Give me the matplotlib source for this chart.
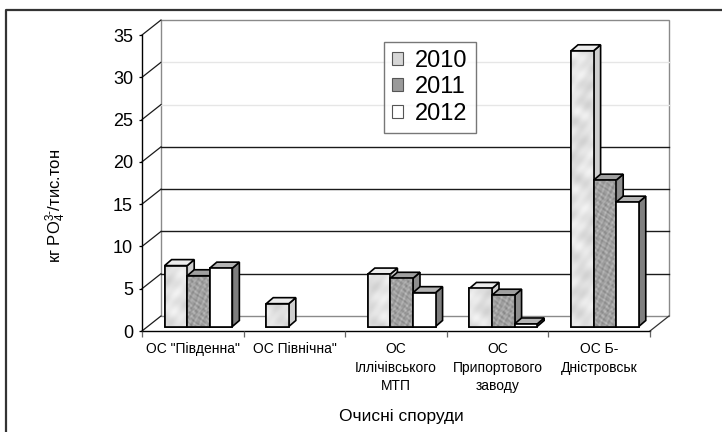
import numpy as np
import matplotlib
matplotlib.use("Agg")
import matplotlib.pyplot as plt
from matplotlib.transforms import offset_copy
from matplotlib.patches import Polygon, Rectangle
from matplotlib.lines import Line2D

plt.rcParams['font.family'] = ['Liberation Sans', 'DejaVu Sans']
plt.rcParams['mathtext.fontset'] = 'custom'
plt.rcParams['mathtext.rm'] = 'Liberation Sans'
plt.rcParams['mathtext.it'] = 'Liberation Sans:italic'

# ---- data -------------------------------------------------------------
categories = ['ОС "Південна"', 'ОС Північна"', 'ОС\nІллічівського\nМТП',
              'ОС\nПрипортового\nзаводу', 'ОС Б-\nДністровськ']
years = ['2010', '2011', '2012']
values_2010 = [7.2, 2.7, 6.2, 4.5, 32.6]
values_2011 = [6.0, np.nan, 5.7, 3.7, 17.3]
values_2012 = [6.9, np.nan, 4.0, 0.3, 14.7]
y_ticks = [0, 5, 10, 15, 20, 25, 30, 35]
ylabel = 'кг PO$_\\mathrm{4}^{\\mathrm{3}\\text{-}}$/тис.тон'
xlabel = 'Очисні споруди'

series = [values_2010, values_2011, values_2012]
front_colors = ['#dadada', '#a6a6a6', '#ffffff']
top_colors = ['#ececec', '#a0a0a0', '#b4b4b4']
side_colors = ['#cfcfcf', '#8e8e8e', '#7f7f7f']

# ---- figure / axes (front plane of the 3-D box) -----------------------
W, H = 722, 432
fig = plt.figure(figsize=(W / 100, H / 100), dpi=100)
fig.patch.set_facecolor('white')


def fx(px):
    return px / W


def fy(py):
    return 1 - py / H


ax_l, ax_r, ax_t, ax_b = 142, 650, 35, 331
ax = fig.add_axes([fx(ax_l), fy(ax_b), (ax_r - ax_l) / W, (ax_b - ax_t) / H])
n = len(categories)
ax.set_facecolor('none')

ppx = (ax_r - ax_l) / n          # pixels per category
ppy = (ax_b - ax_t) / 35.0       # pixels per value unit

# depth of the wall box and of the bars (pixels)
wall_dx, wall_dy = 19, 15
bar_dx, bar_dy = 7, 6
WDX, WDY = wall_dx / ppx, wall_dy / ppy
BDX, BDY = bar_dx / ppx, bar_dy / ppy

# back wall
ax.add_patch(Rectangle((WDX, WDY), n, 35, facecolor='white', edgecolor='#8a8a8a',
                       lw=1.0, zorder=0.5, clip_on=False))
for v in y_ticks[1:-1]:
    col = '#1a1a1a' if v <= 20 else '#e6e6e6'
    ax.add_line(Line2D([WDX, n + WDX], [v + WDY, v + WDY], color=col, lw=1.0,
                       zorder=0.8, clip_on=False))
# side wall diagonals
for v in y_ticks:
    ax.add_line(Line2D([0, WDX], [v, v + WDY], color='#1a1a1a', lw=0.9,
                       zorder=0.8, clip_on=False))
# floor right edge
ax.add_line(Line2D([n, n + WDX], [0, WDY], color='#333333', lw=0.9,
                   zorder=0.8, clip_on=False))

# ---- surface textures (marble / granite fills) ------------------------
gx = np.linspace(0, ax_r - ax_l, 520)
gy = np.linspace(0, ax_b - ax_t, 300)
XX, YY = np.meshgrid(gx, gy)
marble = (np.sin(XX * 0.21 + 2.0 * np.sin(YY * 0.09) + YY * 0.05)
          + 0.6 * np.sin(YY * 0.33 + XX * 0.07 + 1.3)
          + 0.4 * np.sin(XX * 0.53 - YY * 0.41))
granite = (np.sin(XX * 0.9 + YY * 0.35) * np.sin(YY * 0.8 - XX * 0.2)
           + 0.7 * np.sin(XX * 1.7 + 3.1 * np.sin(YY * 0.23))
           * np.sin(YY * 1.3 + 1.7 * np.sin(XX * 0.31)))


def norm(a, lo, hi):
    a = (a - a.min()) / (a.max() - a.min())
    return lo + (hi - lo) * a


textures = [norm(marble, 0.82, 0.95), norm(granite, 0.48, 0.78), None]

# ---- bars -------------------------------------------------------------
bar_w = 1 / 4.5
gap = (1 - 3 * bar_w) / 2
btrans = offset_copy(ax.transData, fig=fig, x=5.7, y=4.5, units='dots')
x_idx = np.arange(n)
for j, vals in enumerate(series):
    vals = np.asarray(vals, dtype=float)
    lefts = x_idx + gap + j * bar_w
    ax.bar(lefts, vals, width=bar_w, align='edge', color=front_colors[j],
           edgecolor='black', linewidth=1.2, transform=btrans,
           zorder=3 + j * 0.1, label=years[j])

# 3-D faces, drawn category by category from left to right
for i in range(n):
    for j, vals in enumerate(series):
        v = vals[i]
        if np.isnan(v):
            continue
        x0 = i + gap + j * bar_w
        x1 = x0 + bar_w
        z = 3 + i * 1 + j * 0.1
        top = Polygon([(x0, v), (x1, v), (x1 + BDX, v + BDY), (x0 + BDX, v + BDY)],
                      closed=True, facecolor=top_colors[j], edgecolor='black',
                      lw=1.2, transform=btrans, zorder=z + 0.05, clip_on=False)
        side = Polygon([(x1, 0), (x1, v), (x1 + BDX, v + BDY), (x1 + BDX, BDY)],
                       closed=True, facecolor=side_colors[j], edgecolor='black',
                       lw=1.2, transform=btrans, zorder=z + 0.05, clip_on=False)
        ax.add_patch(side)
        ax.add_patch(top)
        # front face re-drawn above the previous bar's side face
        face = Rectangle((x0, 0), bar_w, v, facecolor=front_colors[j],
                         edgecolor='none', transform=btrans,
                         zorder=z + 0.06, clip_on=False)
        ax.add_patch(face)
        if textures[j] is not None:
            im = ax.imshow(textures[j], cmap='gray', vmin=0, vmax=1,
                           extent=(0, n, 0, 35), origin='lower', aspect='auto',
                           interpolation='bilinear', transform=btrans,
                           zorder=z + 0.07)
            im.set_clip_path(face)
        ax.add_patch(Rectangle((x0, 0), bar_w, v, facecolor='none',
                               edgecolor='black', lw=1.2, transform=btrans,
                               zorder=z + 0.08, clip_on=False))

ax.set_xlim(0, n)
ax.set_ylim(0, 35)

# ---- axes styling -----------------------------------------------------
for s in ['top', 'right']:
    ax.spines[s].set_visible(False)
ax.spines['left'].set_color('black')
ax.spines['bottom'].set_color('black')
ax.spines['left'].set_linewidth(1.0)
ax.spines['bottom'].set_linewidth(1.0)
ax.spines['left'].set_zorder(1)
ax.spines['bottom'].set_zorder(1)

ax.set_yticks(y_ticks)
ax.set_yticklabels([str(t) for t in y_ticks], fontsize=13)
ax.tick_params(axis='y', direction='out', length=2.5, width=0.9, pad=4, color='black')

ax.set_xticks(np.arange(n + 1))
ax.set_xticklabels([])
ax.tick_params(axis='x', which='major', direction='out', length=4.5, width=0.9,
               color='#666666')
ax.set_xticks(x_idx + 0.5, minor=True)
ax.set_xticklabels(categories, minor=True, fontsize=10)
ax.tick_params(axis='x', which='minor', length=0, pad=8)
for lbl in ax.get_xticklabels(minor=True):
    lbl.set_linespacing(1.4)

fig.text(fx(56), fy(206), ylabel, rotation=90, ha='center', va='center', fontsize=12)
fig.text(fx(401), fy(416), xlabel, ha='center', va='center', fontsize=12.5)

# legend swatches
leg_handles = [Rectangle((0, 0), 1, 1, facecolor=c, edgecolor='#555555', lw=0.8)
               for c in ['#d6d6d6', '#9a9a9a', '#ffffff']]
leg = fig.legend(leg_handles, years, loc='upper left', bbox_to_anchor=(fx(384), fy(42)),
                 bbox_transform=fig.transFigure, fontsize=17, frameon=True,
                 fancybox=False, edgecolor='#555555', handlelength=0.48,
                 handleheight=0.48, handletextpad=0.5, labelspacing=0.18,
                 borderpad=0.34, borderaxespad=0)
leg.get_frame().set_linewidth(1.0)
leg.set_zorder(10)

# outer chart-area border
fig.add_artist(Line2D([fx(6), fx(6), fx(722)], [0, fy(10), fy(10)],
                      transform=fig.transFigure, color='#333333', lw=1.6))

fig.savefig('out.png', dpi=100, facecolor='white')
